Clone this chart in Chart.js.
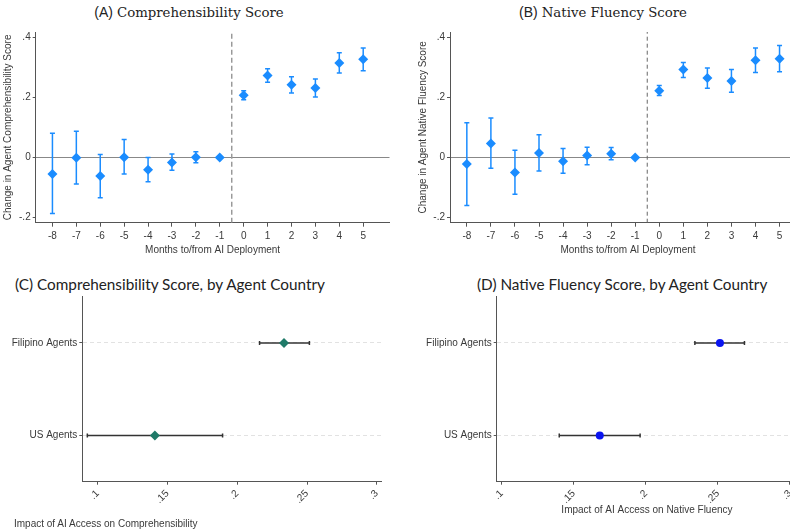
<!DOCTYPE html>
<html>
<head>
<meta charset="utf-8">
<script src="https://cdn.jsdelivr.net/npm/chart.js@4.4.1/dist/chart.umd.min.js"></script>
<style>
  html, body { margin: 0; padding: 0; background: #fff; overflow: hidden; }
  body { width: 790px; height: 532px; position: relative; }
  .panel { position: absolute; }
  .ttl { position: absolute; white-space: nowrap; color: #222; }
  .serif { font-family: "DejaVu Serif", serif; font-size: 13.3px; }
  .sans { font-family: "Liberation Sans", Arial, sans-serif; font-size: 14px; }
  .cal { font-family: Lato, "Noto Sans", sans-serif; font-size: 15.3px; }
  .axt { position: absolute; white-space: nowrap; color: #3a3a3a; font-family: "Liberation Sans", Arial, sans-serif; font-size: 10px; line-height: 12px; }
</style>
</head>
<body>

<div class="ttl" style="left:189px; top:3px; transform:translateX(-50%)"><span class="sans">(A)</span> <span class="serif">Comprehensibility Score</span></div>
<div class="ttl" style="left:603px; top:3px; transform:translateX(-50%)"><span class="sans">(B)</span> <span class="serif">Native Fluency Score</span></div>
<div class="ttl cal" style="left:15px; top:275px">(C) Comprehensibility Score, by Agent Country</div>
<div class="ttl cal" style="left:477px; top:275px">(D) Native Fluency Score, by Agent Country</div>

<div class="panel" style="left:0; top:0"><canvas id="chartA" width="395" height="260"></canvas></div>
<div class="panel" style="left:395px; top:0"><canvas id="chartB" width="420" height="260"></canvas></div>
<div class="panel" style="left:0; top:260px"><canvas id="chartC" width="395" height="272"></canvas></div>
<div class="panel" style="left:395px; top:260px"><canvas id="chartD" width="410" height="272"></canvas></div>

<div class="axt" style="left:14px; top:518px">Impact of AI Access on Comprehensibility</div>

<script>
// event study: months relative to AI deployment
const months = [-8, -7, -6, -5, -4, -3, -2, -1, 0, 1, 2, 3, 4, 5];

const compEst = [-0.055, -0.001, -0.062, 0.001, -0.041, -0.017, 0.001, 0, 0.207, 0.272, 0.242, 0.231, 0.314, 0.326];
const compLo  = [-0.186, -0.088, -0.134, -0.055, -0.081, -0.043, -0.018, 0, 0.192, 0.250, 0.214, 0.201, 0.281, 0.288];
const compHi  = [0.080, 0.087, 0.010, 0.060, 0.000, 0.011, 0.019, 0, 0.222, 0.295, 0.268, 0.261, 0.348, 0.364];

const fluEst = [-0.022, 0.046, -0.050, 0.015, -0.013, 0.006, 0.012, 0, 0.222, 0.292, 0.264, 0.254, 0.323, 0.328];
const fluLo  = [-0.160, -0.036, -0.122, -0.045, -0.053, -0.024, -0.008, 0, 0.206, 0.266, 0.230, 0.217, 0.282, 0.285];
const fluHi  = [0.115, 0.131, 0.024, 0.075, 0.030, 0.034, 0.033, 0, 0.239, 0.316, 0.297, 0.292, 0.364, 0.372];

// by agent country
const countries = ["Filipino Agents", "US Agents"];
const ctryCompEst = [0.2335, 0.141];
const ctryCompLo  = [0.216, 0.0926];
const ctryCompHi  = [0.2517, 0.1895];
const ctryFluEst  = [0.2514, 0.168];
const ctryFluLo   = [0.234, 0.1399];
const ctryFluHi   = [0.2684, 0.196];

// tick labels
const eventYTicks = [-0.2, 0, 0.2, 0.4];
const impactTicks = [0.1, 0.15, 0.2, 0.25, 0.3];
const deployLine = -0.5;

const BLUE = "#1a8cff";
const TICKFONT = { family: "Liberation Sans, Arial, sans-serif", size: 10 };
const TEXT = "#3a3a3a";

// stata style numbers: .2, -.2, 0
function stataFmt(v) {
  if (v === 0) return "0";
  return String(+v.toFixed(2)).replace(/^(-?)0\./, "$1.");
}

function fixTicks(values) {
  return scale => { scale.ticks = values.map(v => ({ value: v })); };
}

function eventChart(id, est, lo, hi, yTitle, sizes) {
  const whiskers = months.map((m, i) => ({
    data: [{ x: m, y: lo[i] }, { x: m, y: hi[i] }],
    showLine: true,
    borderColor: BLUE,
    borderWidth: 1.5,
    pointStyle: "line",
    pointRadius: 2.5,
    pointBorderColor: BLUE,
    pointBorderWidth: 1.5
  }));
  return new Chart(document.getElementById(id), {
    type: "scatter",
    data: {
      datasets: [
        {
          data: months.map((m, i) => ({ x: m, y: est[i] })),
          pointStyle: "rectRot",
          pointRadius: 5,
          backgroundColor: BLUE,
          borderColor: BLUE,
          borderWidth: 0
        },
        {
          data: [{ x: deployLine, y: -0.217 }, { x: deployLine, y: 0.417 }],
          showLine: true,
          borderColor: sizes.dashColor,
          borderWidth: sizes.dashWidth,
          borderDash: sizes.dash,
          pointRadius: 0
        },
        ...whiskers
      ]
    },
    options: {
      responsive: false,
      animation: false,
      layout: { padding: { top: 32, right: sizes.padRight, left: 0, bottom: 0 } },
      plugins: { legend: { display: false }, tooltip: { enabled: false } },
      scales: {
        x: {
          type: "linear",
          min: -8.7, max: 6.1,
          afterBuildTicks: fixTicks(months),
          afterFit: s => { s.height = 37.3; },
          grid: { drawOnChartArea: false, tickLength: 4, tickColor: "#555" },
          border: { color: "#555", width: 1 },
          ticks: { font: TICKFONT, color: TEXT, padding: 4, maxRotation: 0, autoSkip: false },
          title: {
            display: true, text: "Months to/from AI Deployment",
            font: { family: "Liberation Sans, Arial, sans-serif", size: 10 },
            color: TEXT, padding: { top: 0, bottom: 4 }
          }
        },
        y: {
          min: -0.217, max: 0.417,
          afterBuildTicks: fixTicks(eventYTicks),
          afterFit: s => { s.width = sizes.yWidth; },
          grid: {
            color: c => (c.tick && c.tick.value === 0) ? "#888" : "rgba(0,0,0,0)",
            tickColor: "#555", tickLength: 3, lineWidth: 1
          },
          border: { color: "#555", width: 1 },
          ticks: { font: TICKFONT, color: TEXT, padding: 2, callback: v => stataFmt(v) },
          title: {
            display: true, text: yTitle,
            font: { family: "Liberation Sans, Arial, sans-serif", size: 10 },
            color: TEXT, padding: { top: sizes.yTitlePad, bottom: 0 }
          }
        }
      }
    }
  });
}

function countryChart(id, est, lo, hi, opts) {
  const whiskers = countries.map((c, i) => ({
    data: [{ x: lo[i], y: c }, { x: hi[i], y: c }],
    showLine: true,
    borderColor: "#333",
    borderWidth: 1.5,
    pointStyle: "line",
    pointRotation: 90,
    pointRadius: 2,
    pointBorderColor: "#333",
    pointBorderWidth: 1.5
  }));
  return new Chart(document.getElementById(id), {
    type: "scatter",
    data: {
      datasets: [
        {
          data: countries.map((c, i) => ({ x: est[i], y: c })),
          pointStyle: opts.marker,
          pointRadius: opts.markerSize,
          backgroundColor: opts.color,
          borderColor: opts.color,
          borderWidth: 0
        },
        ...whiskers
      ]
    },
    options: {
      responsive: false,
      animation: false,
      layout: { padding: opts.padding },
      plugins: { legend: { display: false }, tooltip: { enabled: false } },
      scales: {
        x: {
          type: "linear",
          min: opts.xMin, max: opts.xMax,
          afterBuildTicks: fixTicks(impactTicks),
          afterFit: s => { s.height = 50.3; },
          grid: { drawOnChartArea: false, tickLength: 3, tickColor: "#555" },
          border: { color: "#555", width: 1 },
          ticks: { font: TICKFONT, color: TEXT, padding: 3, minRotation: 45, maxRotation: 45, autoSkip: false, callback: v => stataFmt(v) },
          title: {
            display: opts.xTitle !== "", text: opts.xTitle,
            font: { family: "Liberation Sans, Arial, sans-serif", size: 10 },
            color: TEXT, padding: { top: 0, bottom: 16 }
          }
        },
        y: {
          type: "category",
          labels: countries,
          offset: true,
          afterFit: s => { s.width = opts.yWidth; },
          grid: { color: "#e2e2e2", tickColor: "#555", tickLength: 3, lineWidth: 1 },
          border: { color: "#555", width: 1, dash: [4, 3] },
          ticks: { font: TICKFONT, color: TEXT, padding: 2 }
        }
      }
    }
  });
}

eventChart("chartA", compEst, compLo, compHi, "Change in Agent Comprehensibility Score",
  { padRight: 3.3, yWidth: 35.7, yTitlePad: 2.3, dashColor: "#999", dashWidth: 1.5, dash: [5, 3] });
eventChart("chartB", fluEst, fluLo, fluHi, "Change in Agent Native Fluency Score",
  { padRight: 9, yWidth: 55, yTitlePad: 22.3, dashColor: "#666", dashWidth: 1, dash: [4, 3] });

// panel C's axis title sits flush left under the panel, drawn as page text above
countryChart("chartC", ctryCompEst, ctryCompLo, ctryCompHi, {
  marker: "rectRot", markerSize: 5, color: "#1f7a68",
  xMin: 0.089, xMax: 0.303, xTitle: "",
  padding: { top: 36.7, right: 14, left: 0, bottom: 0 }, yWidth: 82.3
});
countryChart("chartD", ctryFluEst, ctryFluLo, ctryFluHi, {
  marker: "circle", markerSize: 4, color: "#0a14f0",
  xMin: 0.0965, xMax: 0.305, xTitle: "Impact of AI Access on Native Fluency",
  padding: { top: 36.7, right: 7.8, left: 0, bottom: 0 }, yWidth: 101.7
});
</script>
</body>
</html>
